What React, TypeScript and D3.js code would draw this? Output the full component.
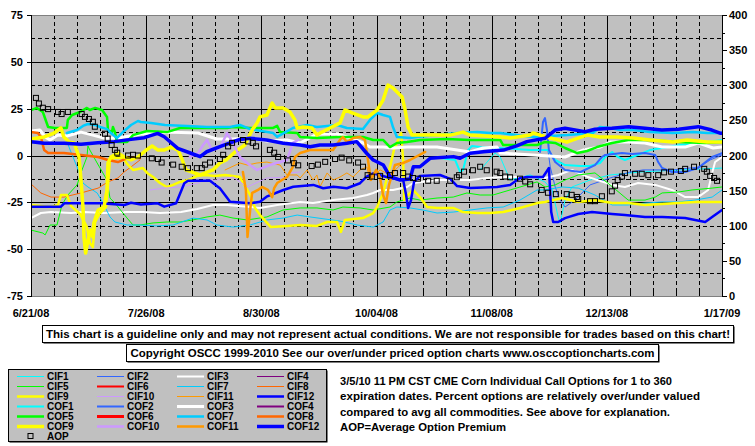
import React from "react";
import * as d3 from "d3";

// ---------- axis / label data ----------
const xTickDays = [0, 35, 70, 105, 140, 175, 210];
const xTickLabels = ["6/21/08", "7/26/08", "8/30/08", "10/04/08", "11/08/08", "12/13/08", "1/17/09"];
const leftTicks = [75, 50, 25, 0, -25, -50, -75];
const rightTicks = [400, 350, 300, 250, 200, 150, 100, 50, 0];

// ---------- series data: [day since 6/21/08, value] ----------
const CIF1 = [[136.5,-7.7],[141,1.3],[142.6,-0.8],[145.6,-13.1],[151.7,-10.4],[156.2,-14.1],[158.4,-18.4],[160.2,-32.8],[160.8,-36],[162.3,-23.8],[164.4,-16.8],[169.9,-13.1],[176,-10.4],[185.1,-8.8],[197.3,-7.7],[210,-6.7]];
const CIF2 = [[157.1,2.9],[157.8,-6.1],[159.3,-16.8],[160.8,-23.8],[162.3,-27.5],[165.3,-23.8],[169.9,-15.7],[176,-12],[182.1,-8.8],[186,-7.7],[195.1,-7.7],[203.3,-6.1],[206.4,-2.4],[210,0.3]];
const CIF3 = [[0,-33.4],[3,-30.7],[6.1,-30.2],[12.2,-30.7],[16.1,-30.2],[22.2,-30.7],[29.2,-30.2],[34,-30.2],[39.2,-30.7],[45.6,-30.2],[50.5,-28.6],[55.3,-26.4],[59.6,-26.4],[66.6,-27.5],[69.6,-28],[74.8,-26.4],[81.8,-24.8],[85.7,-25.4],[91.8,-23.8],[97.9,-22.7],[102.1,-21.1],[104,-20],[106.1,-18.4],[110,-18.4],[114.3,-16.8],[116.1,-14.7],[123.4,-13.1],[133.4,-13.1],[138.6,-12],[143.5,-11.5],[153.8,-11.5],[156.2,-12],[160.2,-10.4],[164.4,-7.7],[169.3,-11.5],[176.6,-15.7],[180.5,-16.8],[184.5,-14.7],[189.7,-15.7],[194.8,-18.4],[198.8,-22.2],[202.7,-22.2],[205.8,-18.4],[207,-9.3],[207.9,-3.5],[210,-0.8]];
const CIF5 = [[0,-39.8],[3.6,-41.4],[4.3,-42.4],[5.8,-37.1],[7.9,-37.1],[8.8,-30.7],[9.4,-26.4],[11.2,-21.1],[14,-15.7],[15.5,-7.7],[17,-0.8],[17.3,5.1],[17.9,2.9],[20.1,-4],[23.1,-13.1],[24,-22.7],[25.5,-25.4],[29.2,-33.4],[31,-37.1],[33.1,-37.1],[37.1,-36],[41.3,-35.5],[45.3,-35.5],[49.2,-34.4],[53.5,-32.8],[57.4,-31.8],[61.4,-33.4],[65.7,-34.4],[71.7,-32.8],[76.6,-29.1],[81.8,-28],[86.9,-28],[91.8,-29.1],[94.8,-27.5],[100,-28],[104,-29.1],[109.1,-27.5],[111.2,-24.8],[115.2,-22.7],[118.2,-23.8],[123.4,-22.7],[128.3,-22.2],[132.5,-20],[136.5,-21.1],[140.4,-21.1],[145.6,-18.4],[153.8,-14.1],[156.2,-16.8],[159.3,-15.7],[162.3,-13.1],[166.3,-10.4],[171.4,-9.3],[176,-15.7],[181.5,-23.8],[186.6,-23.8],[189.7,-22.2],[191.8,-20],[196.7,-19.5],[200.9,-18.4],[207,-17.4],[210,-16.8]];
const CIF7 = [[9.4,14.7],[11.9,2.9],[14,-6.1],[15.8,-14.7],[17.3,-16.8],[20.1,-20],[21.9,-25.4],[24,-32.8],[25.5,-35.5],[29.2,-37.1],[33.1,-37.1],[38.3,-37.6],[43.2,-37.1],[49.2,-33.4],[53.5,-34.4],[56.5,-37.1],[61.4,-38.2],[66.6,-37.1],[71.7,-34.4],[76.6,-33.4],[80.9,-31.8],[84.8,-32.8],[93.9,-35],[99.1,-37.1],[104,-38.2],[107,-35.5],[109.1,-29.1],[111.2,-27.5],[115.2,-28],[119.1,-29.1],[123.4,-30.7],[128.3,-30.2],[133.4,-29.1],[138.6,-28],[143.5,-27.5],[148.6,-23.8],[153.8,-18.4],[156.2,-18.4],[161.4,-16.8],[166.3,-17.4],[171.4,-21.1],[176.6,-26.4],[181.5,-26.4],[186.6,-25.4],[191.8,-24.8],[196.7,-24.8],[201.8,-23.8],[207,-22.2],[210,-18.4]];
const CIF8 = [[0,-15.2],[3,-20],[6.1,-22.2],[10,-22.2],[15.2,-20],[20.4,-17.4],[23.4,-14.1],[26.4,-12],[28.3,-8.8],[30.4,-6.1],[33.1,-2.4]];
const CIF9 = [[0,-26.4],[5.8,-27.5],[8.2,-26.4],[9.1,-21.1],[10.9,-21.1],[12.2,-27],[14.9,-31.2],[17,-38.2],[17.9,-46.7],[18.8,-48.9],[19.5,-35.5],[21,-30.7],[22.8,-27.5],[23.4,-15.7],[24,-2.4],[25.5,-1.3],[28,-1.3],[29.2,-4.5],[31,-7.7],[34,-6.7],[35.3,-9.3],[37.1,-11.5],[39.2,-14.7],[41.3,-16.8],[43.2,-15.7],[45.3,-14.1],[47.7,-13.1],[50.5,-10.9],[52.9,-10.4],[55.9,-10.9],[59,-10.4],[63.5,-11.5],[66.6,-21.1],[68.1,-28],[69.6,-31.8],[72.9,-38.2],[77.8,-37.6],[81.8,-37.1],[86.9,-37.6],[90,-35.5],[93,-35.5],[94.2,-40.8],[95.4,-34.4],[100.9,-33.4],[104,-30.7],[105.2,-27.5],[107,-20],[109.1,-6.1],[110.3,2.9],[111.6,8.3],[112.5,12],[113.1,-2.4],[113.4,-23.8],[114.6,-21.1],[116.1,-18.4],[118.2,-22.2],[120.4,-27.5],[123.4,-28],[128.3,-28],[131.3,-30.2],[135.6,-30.7],[139.5,-30.7],[143.5,-30.2],[148.6,-28],[153.8,-25.4],[156.2,-24.8],[161.4,-22.7],[166.3,-24.8],[171.4,-23.8],[176.6,-25.4],[181.5,-25.4],[186.6,-26.4],[191.8,-25.9],[196.7,-25.4],[201.8,-24.8],[210,-24.8]];
const CIF10 = [[36.2,-18.4],[40.4,-17.4],[45.6,-16.8],[50.8,-14.7],[52.6,-13.1],[56.5,-13.1],[61.4,-11.5],[65.7,-16.8],[71.7,-12],[77.8,-11.5],[78.7,-9.3],[81.8,-8.8]];
const CIF11 = [[59,-7.7],[63.5,-4],[65.7,-5.1],[68.7,-4],[71.7,-3.5],[75.7,-5.1],[77.8,-10.4],[80.9,-10.4],[81.8,-12],[83.9,-7.7],[85.7,-13.1],[86.9,-10.4],[87.8,-16.8],[90,-9.3],[91.8,-13.1],[93.9,-11.5],[96,-9.3],[97.9,-11.5],[100,-7.7],[102.1,-6.1],[103,-13.1],[106.1,-7.7],[109.1,-10.4],[112.2,-5.1]];
const CIF12 = [[0,-27.3],[9.1,-27.3],[10.1,-25.5],[21.3,-25.5],[28.4,-26.4],[30.4,-25.2],[33.4,-26.1],[38.5,-25.5],[40.5,-27.3],[44.1,-25.5],[46.6,-14.8],[47.7,-13.5],[54.4,-13.5],[57.4,-17.5],[60.5,-24.7],[66.6,-25.5],[69.6,-24.7],[71.6,-22],[76.7,-18.4],[79.7,-16.7],[85.8,-15.7],[88.8,-17.5],[91.9,-16.7],[96,-17.5],[100,-14.8],[102,-11.3],[104,-9.5],[109.1,-12],[113.1,-13.1],[114,-21.1],[114.6,-28],[115.5,-23.8],[116.4,-14.1],[118.2,-10.9],[124.3,-10.4],[127.4,-12.5],[129.5,-16.3],[133.4,-17.4],[141.6,-16.8],[145.6,-15.7],[148.6,-12],[150.8,-11.5],[155.6,-11.5],[157.4,-6.7],[158.1,-30.2],[158.7,-35.5],[160.2,-35.5],[162.3,-33.4],[166.3,-31.2],[170.5,-30.2],[176.6,-31.2],[180.5,-31.8],[186.6,-32.8],[191.8,-32.8],[198.8,-33.4],[204.9,-35.5],[207,-32.8],[210,-29.1]];

const COF1 = [[124.3,-1.3],[128.9,-2.4],[130.4,-8.8],[131.3,-7.7],[132.8,2.9],[134,5.1],[136.5,4.5],[142.6,4],[151.7,2.9],[157.1,2.9],[159.3,-2.4],[162.3,-5.1],[166.9,-5.6],[169.9,-5.6],[172.9,-4],[174.5,-0.8],[176.6,1.9],[178.4,-0.8],[180.5,-2.4],[188.1,2.9],[197.3,5.6],[203.3,6.7],[210,8.3]];
const COF2 = [[154.7,1.9],[155.6,17.9],[156.2,20],[156.8,13.6],[157.4,2.9],[159.3,-3.5],[162.3,-7.7],[167,-8.8],[171.4,-5.1],[173.5,-0.8],[174.5,0.3],[179.6,1.3],[182.7,0.8],[186.6,1.3],[189.7,0.3],[190.6,-3.5],[191.8,-6.7],[194.8,-8.8],[198.8,-8.8],[202.7,-6.7],[205.8,-2.4],[207,-0.8],[210,1.3]];
const COF3 = [[0,13.1],[2.7,13.6],[4.3,9.9],[5.8,8.3],[8.2,10.9],[10.9,10.4],[13.1,11.5],[15.2,12.5],[18.8,10.9],[22.2,9.3],[26.4,9.3],[33.4,11.5],[40.4,12.5],[50.8,12],[56.5,8.8],[61.4,8.8],[66.6,9.3],[71.7,7.7],[77.8,8.3],[81.8,6.7],[86.9,11.5],[93,11.5],[97.9,8.8],[100.9,6.7],[103,4.5],[107,4.5],[110,4],[114.3,4.5],[123.4,4.5],[129.5,2.9],[133.4,1.9],[137.4,4],[141.6,4.5],[142.6,1.3],[152.6,0.3],[162.3,-0.8],[167.8,2.9],[172.9,4.5],[176,7.2],[181.5,7.2],[186.6,6.7],[191.8,4.5],[198.8,4.5],[202.7,6.7],[207.3,4],[210,4.5]];
const COF5 = [[0,24.3],[1.8,25.4],[3.6,23.2],[5.2,15.2],[7.3,14.7],[10.9,14.7],[11.2,19],[12.5,21.6],[14.9,23.2],[17,25.4],[17.9,24.3],[19.5,25.4],[21.6,24.3],[23.1,20.6],[23.4,13.6],[24.6,12.5],[24.9,15.2],[25.5,12.5],[26.1,7.2],[29.2,7.2],[31,10.9],[35.3,13.1],[41.3,12.5],[45.3,14.7],[51.4,14.7],[59.6,14.7],[61.4,15.2],[66.6,14.7],[73.6,14.7],[74.8,15.8],[75.7,12.5],[80.9,12],[81.8,9.9],[86.9,9.3],[93.9,9.9],[100.9,9.9],[104,8.3],[107,8.3],[109.1,4.5],[111.2,6.7],[114.3,7.2],[118.2,8.3],[126.4,8.8],[133.4,8.3],[142.6,8.3],[143.5,5.6],[153.8,5.6],[156.2,7.2],[159.3,6.7],[162.3,4],[166,1.3],[169,2.4],[172,4.5],[176.6,6.7],[181.5,8.3],[188.1,8.3],[196.7,7.2],[204.9,6.7],[210,7.2]];
const COF7 = [[10.9,12],[14,13.6],[15.8,15.8],[17.3,16.8],[19.5,16.3],[21,15.2],[23.1,14.1],[24.3,12],[26.1,9.3],[28.3,13.1],[30.4,16.3],[32.5,18.4],[33.4,17.9],[36.5,17.4],[40.7,16.3],[47.4,15.8],[53.5,15.2],[60.5,15.2],[63.5,16.3],[66.6,14.1],[73.6,12],[74.8,9.9],[79.6,14.7],[83.9,16.3],[86.9,15.2],[93,16.3],[96,14.7],[100.9,14.1],[103,19],[105.2,22.7],[107,21.6],[109.1,20.6],[110,15.2],[111.2,9.9],[115.2,9.3],[117.3,9.9],[123.4,10.9],[129.5,12],[135.6,12.5],[139.5,12],[142.6,12],[152.6,9.9],[163.1,10.9],[170.8,12],[172.9,15.2],[176,14.7],[179,13.6],[183,13.6],[188.1,12.5],[195.1,12],[201.2,12.5],[205.5,12],[210,12]];
const COF8 = [[0,12.5],[2.1,12],[3,9.9],[4,2.9],[5.2,1.3],[10,1.3],[15.2,0.3],[20.4,-0.8],[23.4,-2.4],[26.4,-3.5],[29.5,-1.3],[33.1,-1.3]];
const COF9 = [[0,8.8],[4,9.9],[7,12],[9.1,14.7],[10,9.9],[11.6,7.2],[13.1,6.7],[14.6,-0.8],[15.2,-13.1],[15.8,-27.5],[16.1,-43.5],[16.6,-52.1],[17.3,-45.1],[18.2,-39.8],[18.8,-43.5],[19.1,-36],[20.4,-29.1],[22.2,-27.5],[23.1,-18.4],[23.4,-4],[24.3,-0.8],[26.4,1.3],[28.3,-0.8],[30.4,-2.4],[32.5,-0.8],[35,2.9],[36.8,5.1],[38.6,2.9],[40.4,2.9],[42.6,4.5],[44.7,2.9],[45.6,-0.8],[47.1,-7.7],[51.4,-10.4],[55.3,-7.7],[57.4,-4],[59.3,-2.4],[62,1.9],[65,5.6],[67.2,13.6],[68.7,17.4],[69.6,20.6],[71.7,21.6],[73.3,28],[74.2,25.4],[76.6,25.4],[78.7,23.2],[80.2,19],[80.9,14.7],[82.7,15.2],[85.4,14.7],[86.9,10.9],[88.4,12.5],[90.9,14.7],[93.9,17.4],[95.4,24.3],[97.6,22.7],[100.9,20.6],[102.4,20.6],[105.2,24.3],[107,29.6],[108.5,37.6],[110,36],[112.8,31.2],[113.7,24.3],[114.6,15.2],[115.8,10.9],[122.2,10.9],[127.4,10.9],[131.3,12.5],[133.4,10.9],[142.6,9.9],[145.6,9.3],[151.7,10.9],[152.6,12],[157.8,9.3],[162.9,7.2],[164.7,8.3],[169,10.9],[172.9,9.9],[178.1,9.9],[183,9.3],[188.1,8.3],[195.1,7.2],[199.4,8.3],[205.5,7.2],[210,7.2]];
const COF10 = [[48.3,-0.8],[50.8,1.3],[52.3,5.6],[53.5,8.3],[55,2.9],[57.4,4],[59.6,12],[61.4,6.7],[63.5,-0.8],[65.7,-4],[68.7,-7.7],[72.6,-5.1],[77.8,-2.4],[79.6,6.7],[81.2,8.3]];
const COF11 = [[64.4,-8.8],[65.3,-18.4],[65.8,-43.5],[66.6,-29.1],[67.2,-20],[69,-18.4],[70.2,-16.8],[72,-18.4],[73.3,-22.2],[73.9,-17.4],[74.8,-14.7],[77.8,-11.5],[79.6,-6.1],[80.2,-0.8],[81.8,1.3],[84.8,2.9],[91.8,2.9],[93.9,8.3],[94.8,9.9],[96,7.2],[97.9,9.3],[100,9.9],[101.5,8.3],[102.4,-2.4],[103.3,-13.1],[104.9,-7.7],[106.1,-12],[107,-21.1],[107.9,-25.4],[108.8,-15.7],[110.6,-5.1],[113.1,-4],[115.2,-2.4],[119.8,1.9]];
const COF12 = [[0,7.4],[4,6.5],[10.1,6.5],[15.2,6],[20.3,6.8],[25.3,7.4],[30.4,8.6],[34.4,9.5],[38.5,11.8],[40.5,10],[44.6,3.8],[48.6,1.2],[51.4,-0.6],[53.4,2],[57.4,4.7],[60.5,6.8],[63.5,8.6],[66.6,9.2],[71.6,8.3],[76.7,6.5],[81.8,5.6],[84.8,4.7],[87.8,5.6],[91.9,5.6],[96,6.5],[99,7.4],[102,1.2],[104,-2.4],[107.1,-5.1],[109.1,-11.3],[112.2,-13.1],[115.2,-12.5],[116.2,-6],[118.2,-6],[121.3,-1.5],[128.4,-0.6],[130.4,-1.5],[133.4,1.2],[137.5,2],[143.6,2.9],[147.6,5.1],[150.7,7.4],[156.2,9.2],[159.3,13.6],[162.3,14.5],[168.4,12.7],[171.4,14],[176.5,14.5],[181.6,15.4],[186.6,14.5],[191.7,13.6],[196.8,14],[202.8,15.4],[206.9,13.6],[209.4,11.9],[210,11.9]];

// Average Option Premium (right axis)
const AOP = [[1.5,282],[2.4,274],[3.6,268],[5.2,266],[8.2,262],[9.3,259],[11.2,262],[15.4,259],[16.4,255],[17.6,252],[18.8,248],[19.4,241],[22.5,231],[23.3,224],[24.5,215],[25.5,208],[26.2,204],[29.5,200],[31,201],[32.5,200],[36.7,196],[38.6,195],[39.7,190],[43.2,187],[45.8,184],[47.7,182],[50.4,182],[51.9,182],[52.9,187],[54.4,190],[57.4,195],[58.4,201],[59.9,213],[61.1,218],[64.4,222],[66,220],[67.4,218],[68.4,213],[72.6,208],[73.9,204],[75.1,198],[78.1,193],[79.9,189],[81.2,186],[85.3,185],[87.2,187],[89.4,191],[92.4,195],[94.4,197],[96.7,193],[99.4,190],[100.9,184],[102.3,172],[103.6,170],[106.1,171],[109.1,172],[110.6,175],[113.1,175],[114.6,170],[116.1,168],[117.6,167],[120.7,164],[123.3,164],[127.4,164],[129.4,169],[130.1,172],[131.6,177],[134.3,179],[136.5,184],[138.5,179],[141.5,177],[142.6,175],[144.1,170],[145.6,169],[148.6,167],[150.2,163],[151.7,159],[155.2,151],[157.1,147],[159.5,145],[162.8,145],[164.3,144],[165.9,141],[166.3,138],[169.9,135],[171.4,135],[173.5,142],[176.5,149],[177.5,157],[178.3,165],[179.6,170],[180.5,175],[183.6,174],[185.6,174],[187.6,172],[190.6,172],[192.4,176],[194.5,177],[197.5,178],[198.8,181],[201.5,184],[204.6,181],[205.4,177],[206.4,171],[207.6,168],[208.5,164]];

const EMPTY: number[][] = [];

const SERIES = [
  { name: "CIF1", color: "#00ffff", width: 1, data: CIF1 },
  { name: "CIF2", color: "#3366ff", width: 1, data: CIF2 },
  { name: "CIF3", color: "#ffffff", width: 2, data: CIF3 },
  { name: "CIF4", color: "#800080", width: 1, data: EMPTY },
  { name: "CIF5", color: "#00ff00", width: 1, data: CIF5 },
  { name: "CIF6", color: "#ff0000", width: 2, data: EMPTY },
  { name: "CIF7", color: "#00ccff", width: 1, data: CIF7 },
  { name: "CIF8", color: "#ff6600", width: 1, data: CIF8 },
  { name: "CIF9", color: "#ffff00", width: 2.5, data: CIF9 },
  { name: "CIF10", color: "#cc99ff", width: 1, data: CIF10 },
  { name: "CIF11", color: "#ff9900", width: 1, data: CIF11 },
  { name: "CIF12", color: "#0000ff", width: 2.5, data: CIF12 },
  { name: "COF1", color: "#00ffff", width: 2, data: COF1 },
  { name: "COF2", color: "#3366ff", width: 2, data: COF2 },
  { name: "COF3", color: "#ffffff", width: 3, data: COF3 },
  { name: "COF4", color: "#800080", width: 2, data: EMPTY },
  { name: "COF5", color: "#00ff00", width: 2.5, data: COF5 },
  { name: "COF6", color: "#ff0000", width: 3, data: EMPTY },
  { name: "COF7", color: "#00ccff", width: 2.5, data: COF7 },
  { name: "COF8", color: "#ff6600", width: 2.5, data: COF8 },
  { name: "COF9", color: "#ffff00", width: 3.5, data: COF9 },
  { name: "COF10", color: "#cc99ff", width: 2.5, data: COF10 },
  { name: "COF11", color: "#ff9900", width: 2.5, data: COF11 },
  { name: "COF12", color: "#0000ff", width: 3.5, data: COF12 },
];

const NOTE_LINES = [
  "3/5/10 11 PM CST CME Corn Individual Call Options for 1 to 360",
  "expiration dates. Percent options are relatively over/under valued",
  "compared to avg all commodities. See above for explanation.",
  "AOP=Average Option Premium",
];
const DISCLAIMER = "This chart is a guideline only and may not represent actual conditions. We are not responsible for trades based on this chart!";
const COPYRIGHT = "Copyright OSCC 1999-2010 See our over/under priced option charts www.osccoptioncharts.com";

const W = 755, H = 446;
const PL = 31, PR = 722, PT = 15, PB = 296;
const FONT = "'Liberation Sans', Arial, Helvetica, sans-serif";

export default function App() {
  const x = d3.scaleLinear().domain([0, 210]).range([PL, PR]);
  const y = d3.scaleLinear().domain([-75, 75]).range([PB, PT]);
  const y2 = d3.scaleLinear().domain([0, 400]).range([PB, PT]);
  const line = d3.line<number[]>().x((d) => x(d[0])).y((d) => y(d[1]));

  const hGrid = d3.range(-62.5, 75, 12.5);
  const weekDays = d3.range(7, 210, 7);
  const minorRight = d3.range(25, 400, 50);

  const noteW = [332, 360, 330, 166];

  return (
    <svg width={W} height={H} style={{ position: "absolute", left: 0, top: 0, background: "#fff" }} fontFamily={FONT}>
      <defs>
        <clipPath id="plotclip">
          <rect x={PL} y={PT} width={PR - PL} height={PB - PT} />
        </clipPath>
      </defs>
      <rect x={0} y={0} width={W} height={H} fill="#fff" />
      {/* plot area */}
      <rect x={PL} y={PT} width={PR - PL} height={PB - PT} fill="#c0c0c0" />
      {/* horizontal grid */}
      {hGrid.map((v) => {
        const major = Math.abs(v % 25) < 1e-6;
        return (
          <line key={"h" + v} x1={PL} x2={PR} y1={Math.round(y(v)) + 0.5} y2={Math.round(y(v)) + 0.5}
            stroke="#000" strokeWidth={1} strokeDasharray={major ? undefined : "4,3"} />
        );
      })}
      {/* vertical grid */}
      {weekDays.map((d) => {
        const major = d % 35 === 0;
        return (
          <line key={"v" + d} x1={Math.round(x(d)) + 0.5} x2={Math.round(x(d)) + 0.5} y1={PT} y2={PB}
            stroke="#000" strokeWidth={1} strokeDasharray={major ? undefined : "4,3"} />
        );
      })}
      {/* border */}
      <line x1={PL} x2={PR} y1={PT + 0.5} y2={PT + 0.5} stroke="#808080" />
      <line x1={PL} x2={PR} y1={PB + 0.5} y2={PB + 0.5} stroke="#808080" />
      {/* series */}
      <g clipPath="url(#plotclip)">
        {SERIES.map((s) =>
          s.data.length ? (
            <path key={s.name} d={line(s.data) || ""} fill="none" stroke={s.color} strokeWidth={s.width}
              strokeLinejoin="round" strokeLinecap="round" />
          ) : null
        )}
        {AOP.map((d, i) => (
          <rect key={"a" + i} x={x(d[0]) - 2.5} y={y2(d[1]) - 2.5} width={5} height={5}
            fill="none" stroke="#000" strokeWidth={1} />
        ))}
      </g>
      {/* axes lines */}
      <line x1={PL + 0.5} x2={PL + 0.5} y1={PT} y2={PB + 1} stroke="#000" />
      <line x1={PR + 0.5} x2={PR + 0.5} y1={PT} y2={PB + 1} stroke="#000" />
      {/* bottom minor ticks */}
      {weekDays.map((d) => (
        <line key={"bt" + d} x1={Math.round(x(d)) + 0.5} x2={Math.round(x(d)) + 0.5} y1={PB - 4} y2={PB}
          stroke="#000" />
      ))}
      {/* left ticks + labels */}
      {leftTicks.map((v) => (
        <g key={"l" + v}>
          <line x1={PL - 4} x2={PL} y1={Math.round(y(v)) + 0.5} y2={Math.round(y(v)) + 0.5} stroke="#000" />
          <text x={23} y={y(v) + 4} textAnchor="end" fontSize={11} fontWeight="bold" fill="#000">{v}</text>
        </g>
      ))}
      {/* right ticks + labels */}
      {rightTicks.map((v) => (
        <g key={"r" + v}>
          <line x1={PR} x2={PR + 5} y1={Math.round(y2(v)) + 0.5} y2={Math.round(y2(v)) + 0.5} stroke="#000" />
          <text x={729} y={y2(v) + 4} textAnchor="start" fontSize={11} fontWeight="bold" fill="#000">{v}</text>
        </g>
      ))}
      {minorRight.map((v) => (
        <line key={"rm" + v} x1={PR} x2={PR + 3} y1={Math.round(y2(v)) + 0.5} y2={Math.round(y2(v)) + 0.5} stroke="#000" />
      ))}
      {/* x labels */}
      {xTickDays.map((d, i) => (
        <text key={"x" + d} x={x(d)} y={316.5} textAnchor="middle" fontSize={11} fontWeight="bold" fill="#000">
          {xTickLabels[i]}
        </text>
      ))}
      {/* disclaimer box */}
      <rect x={43.5} y={326.5} width={691} height={17} fill="#000" />
      <rect x={42.5} y={325.5} width={691} height={17} fill="#fff" stroke="#000" />
      <text x={388} y={338} textAnchor="middle" fontSize={11.5} fontWeight="bold" textLength={684}
        lengthAdjust="spacingAndGlyphs" fill="#000">{DISCLAIMER}</text>
      {/* copyright box */}
      <rect x={127.5} y={345.5} width={532} height={17} fill="#000" />
      <rect x={126.5} y={344.5} width={532} height={17} fill="#fff" stroke="#000" />
      <text x={392.5} y={357} textAnchor="middle" fontSize={11.5} fontWeight="bold" textLength={524}
        lengthAdjust="spacingAndGlyphs" fill="#000">{COPYRIGHT}</text>
      {/* legend */}
      <rect x={9.5} y={370.5} width={318} height={72} fill="#000" />
      <rect x={8.5} y={369.5} width={318} height={72} fill="#c0c0c0" stroke="#000" />
      {SERIES.map((s, i) => {
        const row = Math.floor(i / 4);
        const col = i % 4;
        const ly = 376 + row * 10;
        const lx = 17 + col * 80;
        return (
          <g key={"lg" + s.name}>
            <line x1={lx} x2={lx + 27} y1={ly + 0.5} y2={ly + 0.5} stroke={s.color} strokeWidth={s.width} />
            <text x={lx + 30} y={ly + 4} fontSize={10} fontWeight="bold" fill="#000">{s.name}</text>
          </g>
        );
      })}
      <rect x={28} y={433.5} width={5} height={5} fill="none" stroke="#000" />
      <text x={47} y={440} fontSize={10} fontWeight="bold" fill="#000">AOP</text>
      {/* note */}
      {NOTE_LINES.map((t, i) => (
        <text key={"n" + i} x={340} y={384.5 + i * 15.5} fontSize={11} fontWeight="bold" fill="#000"
          textLength={noteW[i]} lengthAdjust="spacingAndGlyphs">{t}</text>
      ))}
    </svg>
  );
}
